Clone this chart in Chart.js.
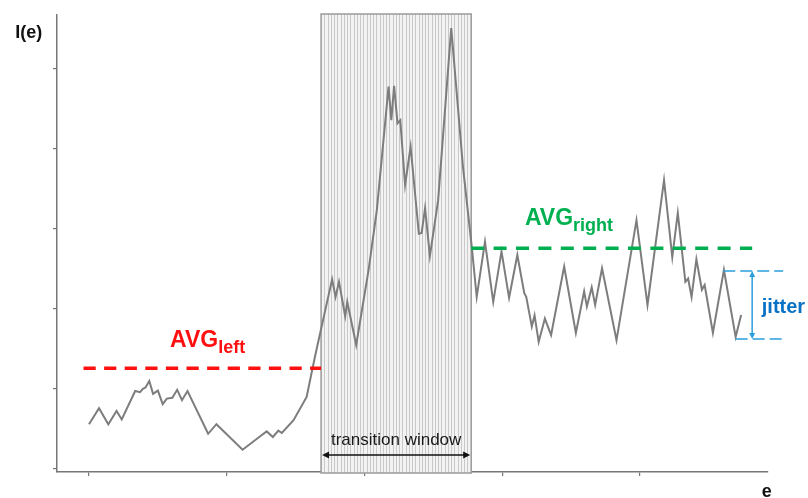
<!DOCTYPE html>
<html>
<head>
<meta charset="utf-8">
<script src="https://cdn.jsdelivr.net/npm/chart.js@4.4.1/dist/chart.umd.min.js"></script>
<style>
html, body { margin: 0; padding: 0; background: #fff; }
#wrap { width: 808px; height: 498px; position: relative; }
</style>
</head>
<body>
<div id="wrap"><canvas id="chart"></canvas></div>
<script>
// signal I(e)
const sigX = [0, 1.45, 2.8, 4.0, 4.75, 6.7, 7.4, 7.8, 8.2, 8.75, 9.3, 10.0, 10.7, 11.3, 12.1, 12.8, 13.5, 14.3,
  17.3, 18.5, 22.3, 25.1, 25.8, 26.7, 27.5, 28.0, 29.7, 31.6, 32.8,
  35.3, 35.8, 36.3, 37.2, 37.5, 38.8, 40.6, 41.8, 43.5, 43.9, 44.3, 44.8, 45.2, 45.9, 46.7, 47.9, 48.3, 48.8, 49.5, 50.7, 52.6, 54.3,
  55.6, 56.3, 57.5, 58.7, 59.9, 61.0, 62.2, 63.2, 63.5, 64.3, 64.7, 65.3, 66.2, 67.1, 69.0, 70.7, 71.9, 72.3, 73.0, 73.5, 74.5, 76.6,
  79.5, 81.1, 83.5, 84.7, 85.5, 86.6, 87.0, 87.5, 88.2, 89.0, 89.4, 90.6, 92.2, 93.9, 94.7];
const sigY = [5.6, 7.6, 5.6, 7.25, 6.2, 9.75, 9.6, 10.0, 10.2, 11.0, 9.4, 9.8, 8.1, 8.8, 8.9, 9.9, 8.6, 9.75,
  4.4, 5.6, 2.4, 4.25, 4.7, 4.0, 4.8, 4.5, 6.1, 9.0, 14.0,
  23.7, 21.5, 23.4, 19.1, 20.9, 15.5, 24.9, 32.4, 47.8, 43.6, 47.9, 43.2, 43.6, 35.5, 40.3, 29.4, 29.5, 32.6, 26.6, 33.6, 55.1, 37.8,
  27.6, 21.5, 28.4, 20.9, 27.2, 21.4, 26.75, 22.0, 21.5, 17.8, 19.2, 15.9, 18.8, 16.75, 25.3, 17.0, 22.2, 20.3, 22.7, 20.5, 25.1, 16.1,
  31.1, 20.5, 36.1, 26.5, 32.0, 23.4, 23.8, 21.5, 26.2, 22.4, 23.0, 17.0, 24.9, 16.5, 19.25];

const xTicks = [0, 20, 40, 60, 80];
const yTicks = [0, 10, 20, 30, 40, 50];

const windowX = [33.7, 55.5];
const avgLeftX = [-0.8, 33.7];
const avgLeftY = 12.6;
const avgRightX = [55.5, 96.3];
const avgRightY = 27.6;
const jitterTopX = [92.1, 100.8];
const jitterBotX = [93.9, 100.8];
const jitterY = [24.75, 16.25];
const jitterArrowX = 96.3;

const FONT = '"Liberation Sans", Arial, sans-serif';
const RED = '#ff1010';
const GREEN = '#00b050';
const BLUE_LINE = '#2a9fdc';
const BLUE_TEXT = '#0a72c4';

function pts(xs, ys) {
    return xs.map((x, i) => ({x: x, y: Array.isArray(ys) ? ys[i] : ys}));
}

function arrowHead(ctx, x, y, dx, dy, len, half) {
    // tip at (x,y), pointing along (dx,dy)
    ctx.beginPath();
    ctx.moveTo(x, y);
    ctx.lineTo(x - dx * len - dy * half, y - dy * len + dx * half);
    ctx.lineTo(x - dx * len + dy * half, y - dy * len - dx * half);
    ctx.closePath();
    ctx.fill();
}

function subLabel(ctx, x, y, main, sub, color, size, subSize) {
    ctx.fillStyle = color;
    ctx.font = `bold ${size}px ${FONT}`;
    ctx.textBaseline = 'alphabetic';
    ctx.textAlign = 'left';
    ctx.fillText(main, x, y);
    const w = ctx.measureText(main).width;
    ctx.font = `bold ${subSize}px ${FONT}`;
    ctx.fillText(sub, x + w, y + 6);
}

const decorations = {
    id: 'decorations',
    beforeDatasetsDraw(chart) {
        const ctx = chart.ctx;
        const xs = chart.scales.x, area = chart.chartArea;
        const l = xs.getPixelForValue(windowX[0]);
        const r = xs.getPixelForValue(windowX[1]);
        const t = area.top - 1, b = area.bottom + 1;
        ctx.save();
        ctx.fillStyle = '#f3f3f3';
        ctx.fillRect(l, t, r - l, b - t);
        ctx.strokeStyle = '#c9c9c9';
        ctx.lineWidth = 1;
        for (let x = l + 3.2; x < r - 1; x += 3.25) {
            ctx.beginPath();
            ctx.moveTo(Math.round(x) + 0.5, t);
            ctx.lineTo(Math.round(x) + 0.5, b);
            ctx.stroke();
        }
        ctx.strokeStyle = '#9a9a9a';
        ctx.lineWidth = 1.5;
        ctx.strokeRect(l, t, r - l, b - t);
        ctx.restore();
    },
    afterDatasetsDraw(chart) {
        const ctx = chart.ctx;
        const xs = chart.scales.x, ys = chart.scales.y;
        ctx.save();

        // transition window arrow + text
        const l = xs.getPixelForValue(windowX[0]) + 1;
        const r = xs.getPixelForValue(windowX[1]) - 1;
        const ay = ys.getPixelForValue(1.75);
        ctx.strokeStyle = '#111';
        ctx.fillStyle = '#111';
        ctx.lineWidth = 1.5;
        ctx.beginPath();
        ctx.moveTo(l + 4, ay);
        ctx.lineTo(r - 4, ay);
        ctx.stroke();
        arrowHead(ctx, l, ay, -1, 0, 7, 3.5);
        arrowHead(ctx, r, ay, 1, 0, 7, 3.5);
        ctx.font = `17px ${FONT}`;
        ctx.textAlign = 'center';
        ctx.textBaseline = 'alphabetic';
        ctx.fillStyle = '#1a1a1a';
        ctx.fillText('transition window', (l + r) / 2, ys.getPixelForValue(3.0));

        // average labels
        subLabel(ctx, xs.getPixelForValue(11.76), ys.getPixelForValue(15.25), 'AVG', 'left', RED, 23, 18);
        subLabel(ctx, xs.getPixelForValue(63.3), ys.getPixelForValue(30.5), 'AVG', 'right', GREEN, 23, 18);

        // jitter arrow
        const jx = xs.getPixelForValue(jitterArrowX);
        const jt = ys.getPixelForValue(jitterY[0]);
        const jb = ys.getPixelForValue(jitterY[1]);
        ctx.strokeStyle = BLUE_LINE;
        ctx.fillStyle = BLUE_LINE;
        ctx.lineWidth = 1.5;
        ctx.beginPath();
        ctx.moveTo(jx, jt + 5);
        ctx.lineTo(jx, jb - 5);
        ctx.stroke();
        arrowHead(ctx, jx, jt, 0, -1, 6, 3);
        arrowHead(ctx, jx, jb, 0, 1, 6, 3);
        ctx.fillStyle = BLUE_TEXT;
        ctx.font = `bold 20px ${FONT}`;
        ctx.textAlign = 'left';
        ctx.fillText('jitter', xs.getPixelForValue(97.7), ys.getPixelForValue(19.5));

        // axis names
        ctx.fillStyle = '#111';
        ctx.font = `bold 18px ${FONT}`;
        ctx.fillText('I(e)', xs.getPixelForValue(-10.7), ys.getPixelForValue(53.9));
        ctx.fillText('e', xs.getPixelForValue(97.7), ys.getPixelForValue(-3.5));
        ctx.restore();
    }
};

const axisStyle = {
    display: true,
    drawOnChartArea: false,
    drawTicks: true,
    tickLength: 4,
    color: '#777',
    lineWidth: 1.2
};

new Chart(document.getElementById('chart'), {
    type: 'line',
    data: {
        datasets: [
            {
                data: pts(avgLeftX, avgLeftY),
                borderColor: RED, borderWidth: 3.5, borderDash: [12.2, 8.4],
                pointRadius: 0, clip: false
            },
            {
                data: pts(avgRightX, avgRightY),
                borderColor: GREEN, borderWidth: 3.5, borderDash: [13, 9.4],
                pointRadius: 0, clip: false
            },
            {
                data: pts(jitterTopX, jitterY[0]),
                borderColor: BLUE_LINE, borderWidth: 1.3, borderDash: [12, 5],
                pointRadius: 0, clip: false
            },
            {
                data: pts(jitterBotX, jitterY[1]),
                borderColor: BLUE_LINE, borderWidth: 1.3, borderDash: [12, 5],
                pointRadius: 0, clip: false
            },
            {
                data: pts(sigX, sigY),
                borderColor: '#7d7d7d', borderWidth: 2,
                pointRadius: 0, tension: 0
            }
        ]
    },
    options: {
        responsive: true,
        maintainAspectRatio: false,
        animation: false,
        layout: { padding: { left: 53, right: 40, top: 15, bottom: 22 } },
        scales: {
            x: {
                type: 'linear',
                min: -4.65,
                max: 98.6,
                afterBuildTicks: axis => { axis.ticks = xTicks.map(v => ({value: v})); },
                ticks: { display: false },
                grid: axisStyle,
                border: { display: true, color: '#777', width: 1.5 }
            },
            y: {
                type: 'linear',
                min: -0.375,
                max: 56.75,
                afterBuildTicks: axis => { axis.ticks = yTicks.map(v => ({value: v})); },
                ticks: { display: false },
                grid: axisStyle,
                border: { display: true, color: '#777', width: 1.5 }
            }
        },
        plugins: {
            legend: { display: false },
            tooltip: { enabled: false }
        }
    },
    plugins: [decorations]
});
</script>
</body>
</html>
